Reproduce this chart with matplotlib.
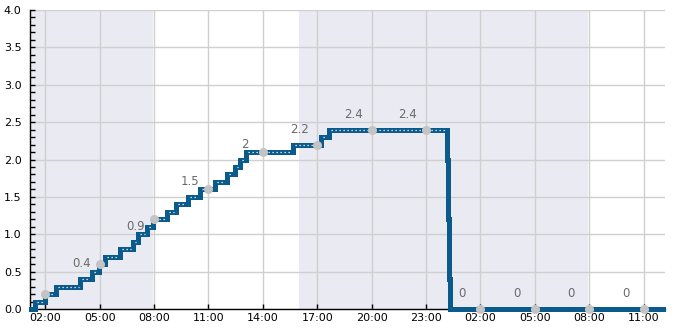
import matplotlib
matplotlib.use("Agg")
import matplotlib.pyplot as plt
from matplotlib.ticker import FuncFormatter, MultipleLocator

# step changes: hour (from day 1 00:00) and level reached at that hour
step_hours = [1.2, 1.42, 1.97, 2.59, 3.94, 4.58, 4.99, 5.29, 6.12, 6.84, 7.11, 7.61, 7.94,
              8.71, 9.21, 9.87, 10.53, 11.36, 12.02, 12.46, 12.74, 13.07, 15.66, 17.21,
              17.65, 24.14, 24.2, 24.25, 24.3, 36.07]
step_values = [0.0, 0.1, 0.2, 0.3, 0.4, 0.5, 0.6, 0.7, 0.8, 0.9, 1.0, 1.1, 1.2,
               1.3, 1.4, 1.5, 1.6, 1.7, 1.8, 1.9, 2.0, 2.1, 2.2, 2.3,
               2.4, 2.0, 1.2, 0.4, 0.0, 0.0]

# marked points every 3 hours and the label shown next to each
mark_hours = [2, 5, 8, 11, 14, 17, 20, 23, 26, 29, 32, 35]
mark_values = [0.2, 0.6, 1.2, 1.6, 2.1, 2.2, 2.4, 2.4, 0.0, 0.0, 0.0, 0.0]
mark_labels = [None, "0.4", "0.9", "1.5", "2", "2.2", "2.4", "2.4", "0", "0", "0", "0"]
label_values = [None, 0.4, 0.9, 1.5, 2.0, 2.2, 2.4, 2.4, 0.0, 0.0, 0.0, 0.0]

# shaded (night) periods, hours
shade_spans = [(0, 7.92), (16, 31.93)]

fig = plt.figure(figsize=(6.85, 3.3), dpi=100)
ax = fig.add_axes([0.0438, 0.0636, 0.9270, 0.9061])

for a, b in shade_spans:
    ax.axvspan(a, b, color="#eaeaf2", lw=0, zorder=0)

ax.grid(True, color="#cfcfcf", lw=1, zorder=1)
ax.set_axisbelow(True)

blue = "#0b5a8c"
ax.step(step_hours, step_values, where="post", color=blue, lw=3.6,
        solid_joinstyle="miter", zorder=3, clip_on=False)

# white dotted centre on the rising flat parts only
for i in range(1, len(step_hours) - 1):
    if step_values[i] > 0 and step_values[i] >= step_values[i - 1]:
        h0, h1 = step_hours[i], step_hours[i + 1]
        ax.plot([h0 + 0.1, h1 - 0.1], [step_values[i]] * 2, color="white", lw=0.9,
                dashes=(1, 2.2), zorder=4)

ax.scatter(mark_hours, mark_values, s=30, color="#c4c4c4", zorder=5, clip_on=False)

for h, lab, lv in zip(mark_hours, mark_labels, label_values):
    if lab is None:
        continue
    ax.annotate(lab, xy=(h, lv), xytext=(-13, 11), textcoords="offset points",
                ha="center", va="center", fontsize=8.5, color="#6a6a6a")

ax.set_xlim(1.16, 36.18)
ax.set_ylim(0, 4)
ax.set_xticks(mark_hours)
ax.xaxis.set_major_formatter(FuncFormatter(lambda x, p: "%02d:00" % (int(round(x)) % 24)))
ax.yaxis.set_major_locator(MultipleLocator(0.5))
ax.yaxis.set_minor_locator(MultipleLocator(0.1))
ax.yaxis.set_major_formatter(FuncFormatter(lambda y, p: "%.1f" % y))

ax.tick_params(axis="y", which="both", direction="in", length=3.5, width=1,
               labelsize=8, pad=6)
ax.tick_params(axis="x", direction="in", length=3.5, width=1, labelsize=8, pad=3)

for s in ["top", "right"]:
    ax.spines[s].set_visible(False)
for s in ["left", "bottom"]:
    ax.spines[s].set_color("black")
    ax.spines[s].set_linewidth(1)

fig.savefig("out.png", dpi=100)
